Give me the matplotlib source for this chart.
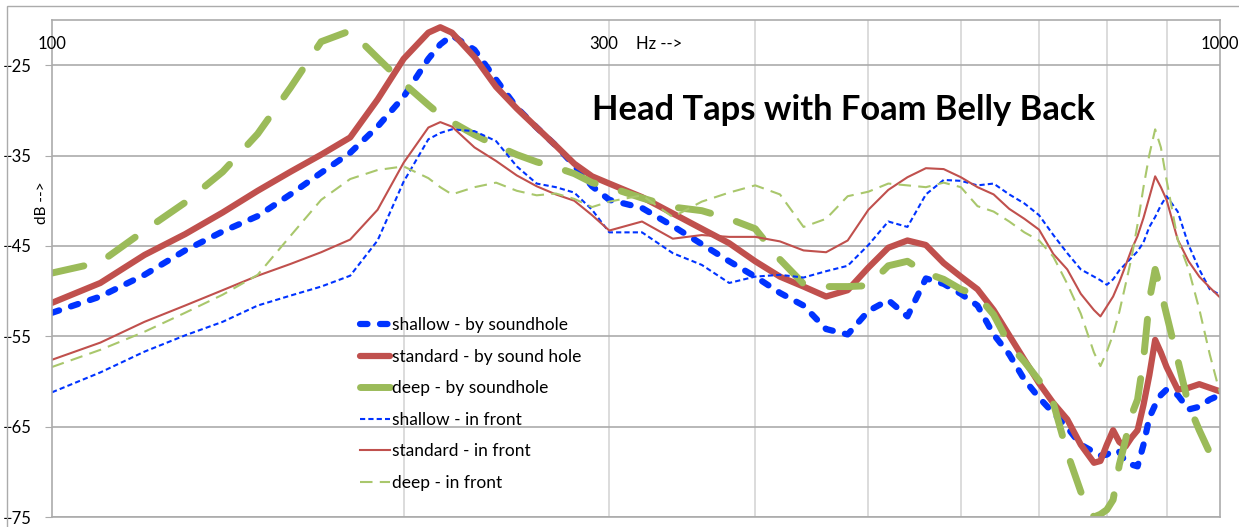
import matplotlib
matplotlib.use("Agg")
import matplotlib.pyplot as plt
from matplotlib.patches import Rectangle
from matplotlib.ticker import NullLocator

plt.rcParams["font.family"] = ["Lato", "DejaVu Sans"]

# frequency (Hz) shared by all six curves
freq = [100, 110, 120, 130, 140, 150, 160, 170, 180, 190,
        200, 210, 215, 220, 230, 240, 250, 260, 270, 280, 290,
        300, 320, 340, 360, 380, 400, 420, 440, 460, 480,
        500, 520, 540, 560, 580, 600, 620, 640, 660, 680,
        700, 720, 740, 760, 780, 790, 800, 810, 820, 830,
        840, 850, 860, 870, 880, 890, 900, 920, 940, 960,
        980, 1000]

# dB values
shallow_hole = [-52.4, -50.6, -48.2, -45.5, -43.4, -41.7, -39.3, -36.9, -34.7, -31.8,
                -28.5, -24.3, -22.7, -21.7, -23.3, -26.6, -29.7, -31.9, -33.9, -36.1, -38.4,
                -39.9, -40.8, -42.8, -44.8, -46.7, -48.4, -50.2, -51.6, -54.2, -54.8,
                -52.2, -51.0, -52.8, -48.6, -49.2, -50.3, -51.6, -54.8, -57.0, -59.8,
                -61.8, -63.5, -65.1, -67.0, -67.8, -68.2, -68.1, -67.6, -67.8, -68.9,
                -69.2, -69.4, -67.0, -64.0, -62.6, -61.5, -60.9, -61.5, -63.1, -62.8,
                -62.0, -61.5]

standard_hole = [-51.3, -49.1, -46.0, -43.7, -41.3, -38.9, -36.8, -34.9, -33.0, -28.8,
                 -24.3, -21.4, -20.8, -21.4, -24.1, -27.4, -29.8, -31.9, -33.9, -35.9, -37.3,
                 -38.1, -39.6, -41.4, -43.1, -44.7, -46.7, -48.4, -49.5, -50.6, -49.9,
                 -47.4, -45.2, -44.4, -44.9, -46.9, -48.4, -49.8, -52.1, -54.9, -57.6,
                 -60.2, -62.4, -64.2, -67.0, -69.0, -68.8, -67.0, -65.4, -66.7, -67.2,
                 -66.2, -65.4, -62.6, -59.3, -55.4, -56.8, -58.4, -60.9, -60.7, -60.3,
                 -60.7, -61.1]

deep_hole = [-48.0, -46.8, -43.3, -40.2, -36.8, -32.6, -27.5, -22.4, -21.2, -24.2,
             -27.0, -29.4, -30.5, -31.3, -32.7, -33.9, -34.9, -35.7, -36.3, -37.0, -38.0,
             -38.5, -39.7, -40.7, -41.1, -42.0, -43.1, -46.5, -49.2, -49.5, -49.5,
             -49.4, -47.2, -46.7, -48.0, -48.7, -49.8, -50.5, -52.6, -55.9, -57.8,
             -59.9, -62.4, -67.9, -72.2, -75.0, -74.7, -74.2, -73.1, -69.2, -66.5,
             -63.7, -62.0, -57.6, -51.0, -47.6, -50.0, -52.6, -57.6, -62.6, -65.4,
             -67.9, -69.0]

shallow_front = [-61.2, -59.0, -56.7, -54.9, -53.4, -51.6, -50.5, -49.5, -48.3, -44.4,
                 -37.9, -33.2, -32.5, -32.1, -32.3, -33.4, -36.2, -38.1, -38.5, -39.1, -41.0,
                 -43.5, -43.5, -45.8, -47.1, -49.1, -48.4, -48.2, -48.5, -47.8, -47.2,
                 -44.9, -42.3, -42.9, -39.3, -37.7, -37.8, -38.3, -38.1, -39.3, -40.3,
                 -41.6, -43.8, -45.8, -47.6, -48.4, -48.8, -49.3, -48.7, -47.7, -47.0,
                 -46.3, -45.6, -44.6, -42.9, -41.8, -40.5, -39.5, -41.2, -44.9, -47.6,
                 -49.8, -50.4]

standard_front = [-57.6, -55.7, -53.4, -51.6, -49.9, -48.3, -47.0, -45.7, -44.3, -41.0,
                  -35.8, -31.9, -31.3, -31.8, -34.1, -35.6, -37.2, -38.4, -39.3, -40.0, -41.6,
                  -43.3, -42.3, -44.2, -43.8, -44.0, -44.0, -44.5, -45.5, -45.7, -44.4,
                  -41.0, -38.8, -37.4, -36.4, -36.5, -37.4, -38.5, -39.3, -40.9, -42.0,
                  -43.2, -45.9, -47.6, -50.3, -52.1, -52.8, -51.7, -50.6, -49.0, -47.2,
                  -45.4, -43.9, -41.9, -39.6, -37.3, -38.5, -39.9, -44.3, -46.7, -48.4,
                  -49.6, -50.7]

deep_front = [-58.4, -56.5, -54.5, -52.4, -50.4, -48.2, -43.9, -39.9, -37.6, -36.6,
              -36.2, -37.5, -38.5, -39.3, -38.5, -38.0, -38.9, -39.4, -39.2, -39.8, -40.7,
              -40.1, -39.4, -41.8, -40.1, -39.1, -38.3, -39.3, -42.9, -42.0, -39.5,
              -39.0, -38.1, -38.3, -38.5, -38.0, -38.5, -40.6, -41.2, -42.3, -43.5,
              -44.4, -46.2, -49.2, -52.5, -56.8, -58.3, -56.7, -54.8, -52.3, -49.3,
              -46.3, -42.6, -38.5, -34.9, -32.1, -34.1, -37.7, -44.3, -47.6, -52.0,
              -57.0, -61.3]

labels = ["shallow - by soundhole", "standard - by sound hole", "deep - by soundhole",
          "shallow - in front", "standard - in front", "deep - in front"]

BLUE = "#0033FF"
RED = "#C0504D"
GREEN = "#9BBB59"
GREEN_LIGHT = "#A9C76C"
GRID_H = "#ABABAB"
GRID_V = "#D6D6D6"

W, H = 1239, 527
fig = plt.figure(figsize=(W / 100, H / 100), dpi=100)
ax = fig.add_axes([52 / W, 1 - 517 / H, (1220 - 52) / W, (517 - 20) / H])

# thick curves (mic by the soundhole)
ax.plot(freq, shallow_hole, color=BLUE, lw=4.5, linestyle=(0, (1.2, 2.0)),
        dash_capstyle="round", label=labels[0])
ax.plot(freq, standard_hole, color=RED, lw=4.5, solid_capstyle="round", label=labels[1])
ax.plot(freq, deep_hole, color=GREEN, lw=5, linestyle=(0, (4.7, 3.9)),
        dash_capstyle="round", label=labels[2])
# thin curves (mic in front)
ax.plot(freq, shallow_front, color=BLUE, lw=1.5, linestyle=(0, (2.5, 1.5)), label=labels[3])
ax.plot(freq, standard_front, color=RED, lw=1.5, label=labels[4])
ax.plot(freq, deep_front, color=GREEN_LIGHT, lw=1.5, linestyle=(0, (6, 3.5)), label=labels[5])

ax.set_xscale("log")
ax.set_xlim(100, 1000)
ax.set_ylim(-75, -20)

ax.set_xticks([200, 300, 400, 500, 600, 700, 800, 900])
ax.xaxis.set_minor_locator(NullLocator())
ax.tick_params(axis="x", which="both", length=0, labelbottom=False)
ax.set_yticks([-75, -65, -55, -45, -35, -25])
ax.tick_params(axis="y", length=5, color=GRID_H, labelsize=12, pad=10)

ax.grid(True, axis="x", color=GRID_V, lw=1.2)
ax.grid(True, axis="y", color=GRID_H, lw=1.2)
ax.set_axisbelow(True)
for s in ax.spines.values():
    s.set_color(GRID_H)
    s.set_linewidth(1.2)

# axis labels sit inside the plot like the original spreadsheet chart
ax.text(100, -22.7, "100", ha="center", va="center", fontsize=12, clip_on=False)
ax.text(297, -22.7, "300", ha="center", va="center", fontsize=12)
ax.text(316, -22.7, "Hz -->", ha="left", va="center", fontsize=12)
ax.text(1000, -22.7, "1000", ha="center", va="center", fontsize=12, clip_on=False)
fig.text(42 / W, 1 - 203 / H, "dB -->", rotation=90, ha="center", va="center", fontsize=11)

fig.text(844 / W, 1 - 110 / H, "Head Taps with Foam Belly Back",
         ha="center", va="center", fontsize=24.8, fontweight="bold")

ax.legend(loc="upper left", bbox_to_anchor=(360 / W, 1 - 317 / H),
          bbox_transform=fig.transFigure, frameon=False, fontsize=12.5,
          handlelength=1.75, handletextpad=0.1, labelspacing=0.9,
          borderpad=0, borderaxespad=0)

# chart area border
fig.patches.append(Rectangle((7 / W, -0.1), 1.2, 1 - 6 / H + 0.1, transform=fig.transFigure,
                             fill=False, edgecolor=GRID_H, lw=1))

fig.savefig("out.png", dpi=100)
